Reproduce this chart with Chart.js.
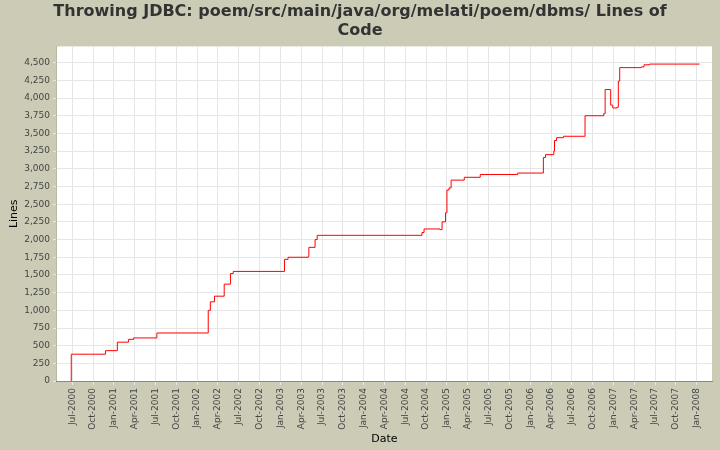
<!DOCTYPE html>
<html><head><meta charset="utf-8">
<script src="https://cdn.jsdelivr.net/npm/chart.js@4"></script>
<style>html,body{margin:0;padding:0;background:#cccbb6;}#w{width:720px;height:450px;}</style>
</head><body><div id="w"><canvas id="c"></canvas></div>
<script>
// x = months since Jan-2000
const dates = [5.85,5.86,10.8,12.5,14.1,14.85,18.2,25.6,25.9,26.5,27.9,28.8,29.2,36.6,37.1,40.0,40.1,41.0,41.3,56.4,56.7,59.0,59.3,59.8,60.0,60.3,60.6,62.5,64.8,70.2,73.9,74.2,75.4,75.5,75.8,76.8,79.9,82.6,82.8,83.6,83.9,84.5,84.7,84.9,88.0,88.4,89.2,96.4];
const lines = [0,380,430,550,590,610,680,1000,1120,1200,1370,1520,1550,1720,1750,1760,1890,2000,2060,2100,2150,2140,2250,2380,2700,2730,2840,2880,2920,2940,3160,3200,3250,3400,3440,3460,3750,3780,4120,3900,3860,3870,4240,4430,4440,4470,4480,4480];
const tickLabels = ["Jul-2000","Oct-2000","Jan-2001","Apr-2001","Jul-2001","Oct-2001","Jan-2002","Apr-2002","Jul-2002","Oct-2002","Jan-2003","Apr-2003","Jul-2003","Oct-2003","Jan-2004","Apr-2004","Jul-2004","Oct-2004","Jan-2005","Apr-2005","Jul-2005","Oct-2005","Jan-2006","Apr-2006","Jul-2006","Oct-2006","Jan-2007","Apr-2007","Jul-2007","Oct-2007","Jan-2008"];
const pts = dates.map((d,i)=>({x:d,y:lines[i]}));
new Chart(document.getElementById('c'),{
 type:'line',
 data:{datasets:[{data:pts,borderColor:'#ff0000',borderWidth:1,pointRadius:0,stepped:'before',fill:false}]},
 plugins:[{id:'bg',beforeDraw(ch){const a=ch.chartArea,x=ch.ctx;x.save();x.fillStyle='#fff';x.fillRect(a.left,a.top,a.right-a.left,a.bottom-a.top);x.restore();}}],
 options:{responsive:true,maintainAspectRatio:false,animation:false,
  layout:{padding:{left:8,right:8,top:0,bottom:4}},
  plugins:{legend:{display:false},tooltip:{enabled:false},
   title:{display:true,text:['Throwing JDBC: poem/src/main/java/org/melati/poem/dbms/ Lines of','Code'],font:{family:'DejaVu Sans',size:16,weight:'bold'},color:'#333',padding:{top:2,bottom:6},lineHeight:1.25}},
  scales:{
   x:{type:'linear',min:3.8,max:98.2,afterBuildTicks(s){s.ticks=tickLabels.map((_,i)=>({value:6+3*i}));},
     ticks:{autoSkip:false,maxRotation:90,minRotation:90,font:{family:'DejaVu Sans',size:9},color:'#444',callback:(v)=>tickLabels[Math.round((v-6)/3)]},
     grid:{color:'#e6e6e6',tickLength:4,drawTicks:true},border:{color:'#888'},
     title:{display:true,text:'Date',font:{family:'DejaVu Sans',size:11},color:'#000',padding:0}},
   y:{min:0,max:4730,afterBuildTicks(s){const t=[];for(let v=0;v<=4500;v+=250)t.push({value:v});s.ticks=t;},
     ticks:{font:{family:'DejaVu Sans',size:9},color:'#444',callback:(v)=>v.toLocaleString('en-US')},
     grid:{color:'#e6e6e6',tickLength:4},
     title:{display:true,text:'Lines',font:{family:'DejaVu Sans',size:11},color:'#000',padding:0}}
  }}
});
</script></body></html>
